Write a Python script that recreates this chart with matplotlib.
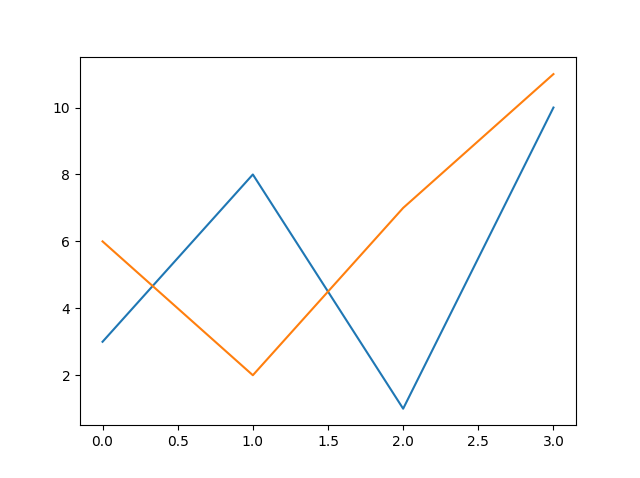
import matplotlib
matplotlib.use('Agg')
import matplotlib.pyplot as plt

x = [0, 1, 2, 3]
y1 = [3, 8, 1, 10]
y2 = [6, 2, 7, 11]

plt.figure(figsize=(6.4, 4.78), dpi=100)
plt.plot(x, y1)
plt.plot(x, y2)
plt.savefig('out.png')
